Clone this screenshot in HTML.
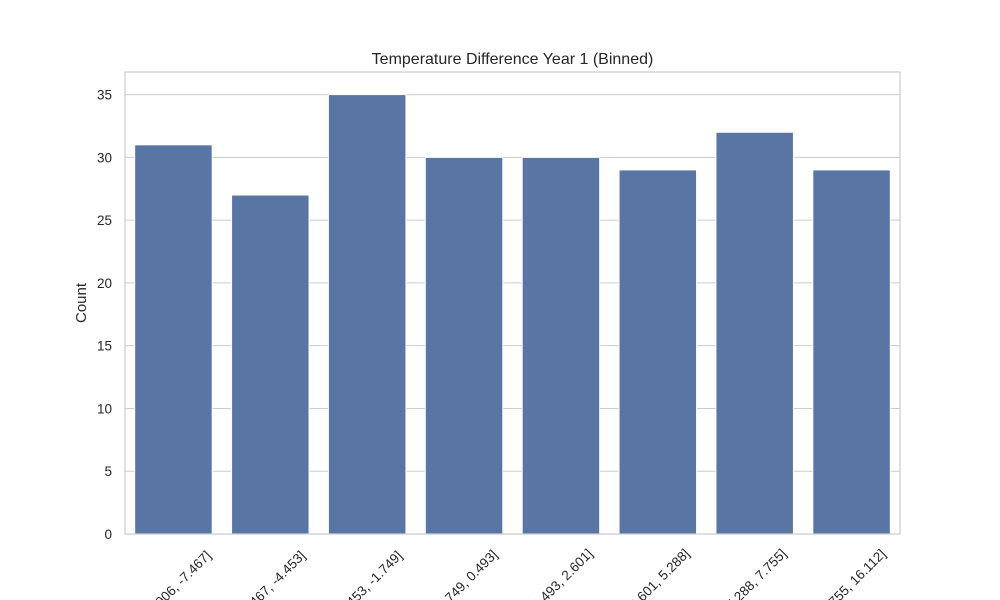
<!DOCTYPE html>
<html><head><meta charset="utf-8"><style>
body{margin:0;background:#fff;}
svg{display:block;font-family:"Liberation Sans",sans-serif;}
</style></head><body>
<svg id="chart" width="1000" height="600"></svg>
<script>
const categories=["(-15.906, -7.467]","(-7.467, -4.453]","(-4.453, -1.749]","(-1.749, 0.493]","(0.493, 2.601]","(2.601, 5.288]","(5.288, 7.755]","(7.755, 16.112]"];
const counts=[31,27,35,30,30,29,32,29];
const yTicks=[0,5,10,15,20,25,30,35];
const NS="http://www.w3.org/2000/svg";
const svg=document.getElementById('chart');
const L=125,R=900,T=72,B=534,yMax=36.8;
function y(v){return B-(v/yMax)*(B-T);}
const band=(R-L)/categories.length;
function xc(i){return L+band*(i+0.5);}
function mk(tag,attrs,parent){const e=document.createElementNS(NS,tag);for(const k in attrs)e.setAttribute(k,attrs[k]);(parent||svg).appendChild(e);return e;}
yTicks.forEach(t=>{
  const g=mk('line',{x1:L,x2:R,y1:y(t),y2:y(t),stroke:'#cccccc','stroke-width':1});
  
  
  const tx=mk('text',{x:L-13,y:y(t)+5,'text-anchor':'end','font-size':13.5,fill:'#262626'});
  tx.textContent=t;
  
  
});
categories.forEach((c,i)=>{
  const w=band*0.8;
  const r=mk('rect',{x:xc(i)-w/2,y:y(counts[i]),width:w,height:B-y(counts[i]),fill:'#5975a4',stroke:'#ffffff','stroke-width':1});
  
  
  const len=c.length*7.3;
  const cy=540+(len*0.707+13*0.707)/2;
  const tx=mk('text',{transform:`translate(${xc(i)},${cy}) rotate(-45)`,'text-anchor':'middle','dominant-baseline':'central','font-size':13.5,fill:'#262626'});
  tx.textContent=c;
  
  
});
const f=mk('rect',{x:L,y:T,width:R-L,height:B-T,fill:'none',stroke:'#cccccc','stroke-width':1.25});


const title=mk('text',{x:(L+R)/2,y:64,'text-anchor':'middle','font-size':16,fill:'#262626'});
title.textContent='Temperature Difference Year 1 (Binned)';


const yl=mk('text',{transform:`translate(86,${(T+B)/2}) rotate(-90)`,'text-anchor':'middle','font-size':15,fill:'#262626'});
yl.textContent='Count';


</script>
</body></html>
